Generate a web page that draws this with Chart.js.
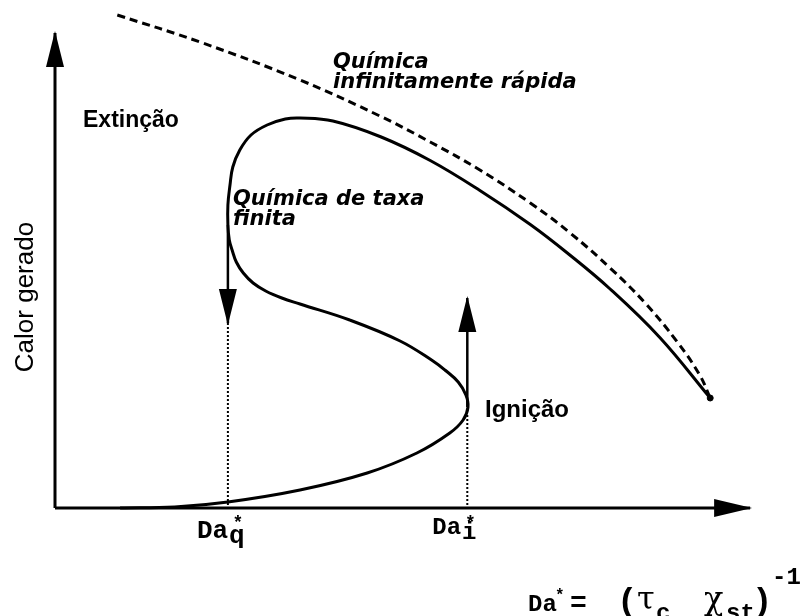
<!DOCTYPE html>
<html>
<head>
<meta charset="utf-8">
<script src="https://cdn.jsdelivr.net/npm/chart.js@4"></script>
<style>
  html, body { margin: 0; padding: 0; background: #fff; }
  #wrap { width: 803px; height: 616px; position: relative; }
</style>
</head>
<body>
<div id="wrap"><canvas id="chart"></canvas></div>
<script>
// S-curve: heat generated vs Damkohler number (finite-rate chemistry)
const sCurveX = [9.3, 17.1, 24.7, 35.0, 44.6, 51.7, 56.4, 58.3, 59.0, 58.7, 57.6, 55.7, 54.0, 49.3, 42.1, 35.0, 32.4, 30.1, 28.3, 26.9, 25.9, 25.3, 24.9, 24.7, 24.7, 25.0, 25.4, 26.4, 28.0, 30.3, 32.9, 35.0, 39.7, 46.6, 53.6, 60.7, 67.9, 73.1, 79.3, 86.4, 93.6];
const sCurveY = [0, 0.2, 1.2, 3.6, 7.0, 11.0, 15.0, 17.6, 20.2, 22.6, 25.2, 27.6, 29.4, 33.4, 37.6, 40.8, 42.0, 43.4, 45.0, 47.0, 49.2, 51.6, 53.6, 56.6, 60.6, 64.6, 68.2, 71.6, 74.6, 76.6, 77.8, 78.0, 77.4, 74.2, 69.5, 63.5, 56.7, 51.1, 43.8, 34.1, 22.0];

// infinitely fast chemistry limit (dashed)
const fastX = [8.9, 20.7, 35.0, 46.4, 53.6, 60.7, 67.9, 73.6, 79.3, 84.3, 88.9, 92.1, 93.6];
const fastY = [98.6, 93.2, 85.6, 78.4, 73.2, 67.6, 61.0, 55.0, 48.0, 41.0, 33.2, 26.6, 22.0];

// critical Damkohler numbers: quenching and ignition
const daQ = 24.7;
const daI = 58.9;
// jumps: extinction drops from the upper branch, ignition rises from the turning point
const quenchJumpY = [56.6, 37.0];
const igniteJumpY = [20.2, 42.0];

// axis extents (arrow tips)
const xAxisEnd = 99.3;
const yAxisEnd = 95;

const pts = (xs, ys) => xs.map((x, i) => ({ x, y: ys[i] }));

const arrowHeads = {
  id: 'arrowHeads',
  afterDatasetsDraw(chart) {
    const ctx = chart.ctx;
    chart.data.datasets.forEach((ds, i) => {
      if (!ds.arrow) return;
      const el = chart.getDatasetMeta(i).data;
      const tip = el[el.length - 1], prev = el[el.length - 2];
      const a = Math.atan2(tip.y - prev.y, tip.x - prev.x);
      const len = ds.arrow.length, hw = ds.arrow.width;
      ctx.save();
      ctx.translate(tip.x, tip.y);
      ctx.rotate(a);
      ctx.beginPath();
      ctx.moveTo(2, 0);
      ctx.lineTo(-len, -hw);
      ctx.lineTo(-len, hw);
      ctx.closePath();
      ctx.fillStyle = '#000';
      ctx.fill();
      ctx.restore();
    });
  }
};

const labels = {
  id: 'labels',
  afterDraw(chart) {
    const ctx = chart.ctx;
    const xs = chart.scales.x;
    ctx.save();
    ctx.fillStyle = '#000';
    ctx.textBaseline = 'alphabetic';

    ctx.font = 'bold 23px "Liberation Sans", Arial, sans-serif';
    ctx.fillText('Extinção', 83, 127);
    ctx.font = 'bold 24px "Liberation Sans", Arial, sans-serif';
    ctx.fillText('Ignição', 485, 417);

    ctx.font = 'italic bold 21px "DejaVu Sans", sans-serif';
    ctx.fillText('Química', 333, 68);
    ctx.fillText('infinitamente rápida', 333, 88);
    ctx.fillText('Química de taxa', 233, 205);
    ctx.fillText('finita', 233, 225);

    // y axis title
    ctx.save();
    ctx.translate(33, 297);
    ctx.rotate(-Math.PI / 2);
    ctx.textAlign = 'center';
    ctx.font = '26px "Liberation Sans", Arial, sans-serif';
    ctx.fillText('Calor gerado', 0, 0);
    ctx.restore();

    // critical Da labels under the axis
    const daLabel = (val, sub, size, dx, base) => {
      const px = xs.getPixelForValue(val);
      ctx.font = `bold ${size}px "Liberation Mono", monospace`;
      const w = ctx.measureText('Da').width;
      ctx.fillText('Da', px + dx, base);
      ctx.fillText(sub, px + dx + w + 1, base + 5);
      ctx.font = 'bold 18px "Liberation Mono", monospace';
      ctx.textAlign = 'center';
      ctx.fillText('*', px + dx + w + size * 0.3 + 2, 528);
      ctx.textAlign = 'left';
    };
    daLabel(daQ, 'q', 26, -31, 538);
    daLabel(daI, 'i', 24, -35, 534);

    // Da* = (tau_c chi_st)^-1
    ctx.font = 'bold 24px "Liberation Mono", monospace';
    ctx.fillText('Da', 528, 611);
    ctx.fillText('c', 656, 620);
    ctx.fillText('st', 726, 620);
    ctx.fillText('-1', 772, 584);
    ctx.font = 'bold 28px "Liberation Mono", monospace';
    ctx.fillText('=', 570, 611);
    ctx.font = 'bold 16px "Liberation Mono", monospace';
    ctx.fillText('*', 555, 600);
    ctx.font = 'bold 34px "Liberation Mono", monospace';
    ctx.fillText('(', 617, 611);
    ctx.fillText(')', 752, 611);
    ctx.font = '32px "DejaVu Serif", serif';
    ctx.fillText('τ', 637, 609);
    ctx.fillText('χ', 704, 609);
    ctx.restore();
  }
};

const black = '#000';
const headStyle = { length: 34, width: 9 };

new Chart(document.getElementById('chart'), {
  type: 'scatter',
  data: {
    datasets: [
      { data: pts([0, xAxisEnd], [0, 0]), borderWidth: 3, arrow: { length: 36, width: 9 } },
      { data: pts([0, 0], [0, yAxisEnd]), borderWidth: 3, arrow: headStyle },
      { data: pts([daQ, daQ], [quenchJumpY[1], 0]), borderWidth: 2, borderDash: [2, 2] },
      { data: pts([daI, daI], [igniteJumpY[0] - 1.6, 0]), borderWidth: 2, borderDash: [2, 2] },
      { data: pts([daQ, daQ], quenchJumpY), borderWidth: 2.5, arrow: headStyle },
      { data: pts([daI, daI], igniteJumpY), borderWidth: 2.5, arrow: headStyle },
      { data: pts(fastX, fastY), borderWidth: 3, borderDash: [8, 5], tension: 0.4 },
      { data: pts(sCurveX, sCurveY), borderWidth: 3, tension: 0.4 },
      { data: pts([sCurveX[sCurveX.length - 1]], [sCurveY[sCurveY.length - 1]]), showLine: false, pointRadius: 3, backgroundColor: black }
    ].map(ds => Object.assign({ showLine: true, pointRadius: 0, borderColor: black, backgroundColor: black }, ds))
  },
  options: {
    responsive: true,
    maintainAspectRatio: false,
    animation: false,
    layout: { padding: { left: 55, right: 48, top: 8, bottom: 108 } },
    scales: {
      x: { type: 'linear', min: 0, max: 100, display: false },
      y: { type: 'linear', min: 0, max: 100, display: false }
    },
    plugins: { legend: { display: false }, tooltip: { enabled: false } },
    clip: false
  },
  plugins: [arrowHeads, labels]
});
</script>
</body>
</html>
